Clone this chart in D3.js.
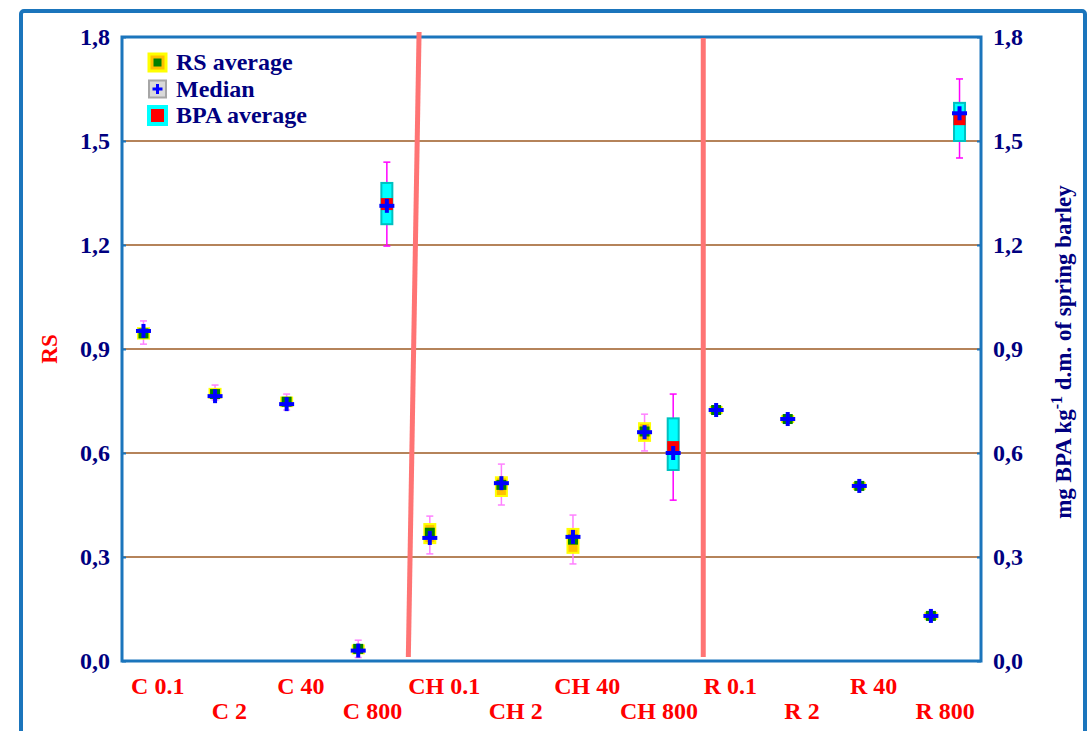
<!DOCTYPE html>
<html>
<head>
<meta charset="utf-8">
<script src="https://cdn.jsdelivr.net/npm/d3@7"></script>
<style>
  body { margin: 0; background: #fff; }
  svg { font-family: "Liberation Serif", "Times New Roman", serif; font-weight: bold; }
</style>
</head>
<body>
<svg width="1092" height="731"></svg>
<script>
const svg = d3.select("svg");

// categories along the x axis
const categories = ["C 0.1", "C 2", "C 40", "C 800", "CH 0.1", "CH 2", "CH 40", "CH 800", "R 0.1", "R 2", "R 40", "R 800"];

// RS box statistics per category
const rsMin    = [0.914, 0.753, 0.724, 0.010, 0.309, 0.450, 0.280, 0.606, 0.720, 0.694, 0.501, 0.118];
const rsQ1     = [0.930, 0.759, 0.735, 0.022, 0.340, 0.476, 0.312, 0.635, 0.722, 0.696, 0.503, 0.126];
const rsMedian = [0.952, 0.764, 0.741, 0.030, 0.355, 0.513, 0.358, 0.660, 0.724, 0.698, 0.505, 0.130];
const rsQ3     = [0.960, 0.785, 0.760, 0.045, 0.395, 0.530, 0.381, 0.686, 0.726, 0.700, 0.507, 0.134];
const rsMax    = [0.981, 0.796, 0.770, 0.060, 0.418, 0.568, 0.421, 0.712, 0.728, 0.702, 0.509, 0.138];
const rsMean   = [0.945, 0.770, 0.748, 0.035, 0.370, 0.508, 0.350, 0.662, 0.724, 0.698, 0.505, 0.130];

// BPA box statistics (only the 800 treatments)
const bpaCategories = ["C 800", "CH 800", "R 800"];
const bpaMin    = [1.197, 0.464, 1.451];
const bpaQ1     = [1.260, 0.551, 1.500];
const bpaMedian = [1.313, 0.600, 1.580];
const bpaQ3     = [1.379, 0.700, 1.610];
const bpaMax    = [1.439, 0.770, 1.679];
const bpaMean   = [1.318, 0.617, 1.563];

const yTicks = [0, 0.3, 0.6, 0.9, 1.2, 1.5, 1.8];
const legendItems = ["RS average", "Median", "BPA average"];

const plotLeft = 122, plotRight = 981, plotTop = 37, plotBottom = 661;

const x = d3.scaleLinear().domain([0, categories.length]).range([plotLeft, plotRight]);
const y = d3.scaleLinear().domain([0, 1.8]).range([plotBottom, plotTop]);

const rsX = i => x(i + 0.3);
const bpaX = c => x(categories.indexOf(c) + 0.7);
const fmt = d => d3.format(".1f")(d).replace(".", ",");

// outer frame
svg.append("rect")
  .attr("x", 21).attr("y", 11).attr("width", 1064).attr("height", 760)
  .attr("rx", 3)
  .attr("fill", "none").attr("stroke", "#1b75bc").attr("stroke-width", 4);

// grid lines
svg.append("g").selectAll("line").data(yTicks.filter(d => d > 0 && d < 1.8))
  .enter().append("line")
  .attr("x1", plotLeft).attr("x2", plotRight)
  .attr("y1", d => y(d)).attr("y2", d => y(d))
  .attr("stroke", "#b5835a").attr("stroke-width", 2);

// plot frame
svg.append("rect")
  .attr("x", plotLeft).attr("y", plotTop).attr("width", plotRight - plotLeft).attr("height", plotBottom - plotTop)
  .attr("fill", "none").attr("stroke", "#1b75bc").attr("stroke-width", 3);

// left and right axis
const leftAxis = d3.axisLeft(y).tickValues(yTicks).tickFormat(fmt).tickSize(-4).tickPadding(12);
const rightAxis = d3.axisRight(y).tickValues(yTicks).tickFormat(fmt).tickSize(-4).tickPadding(12);

[[leftAxis, plotLeft], [rightAxis, plotRight]].forEach(([ax, pos]) => {
  const g = svg.append("g").attr("transform", `translate(${pos},0)`).call(ax);
  g.select(".domain").remove();
  g.selectAll(".tick line").attr("stroke", "#1b75bc").attr("stroke-width", 2);
  g.selectAll(".tick text")
    .attr("fill", "#000080")
    .attr("font-size", 24)
    .attr("font-family", "Liberation Serif, Times New Roman, serif")
    .attr("font-weight", "bold");
});

// x labels, alternating rows
svg.append("g").selectAll("text").data(categories)
  .enter().append("text")
  .attr("x", (d, i) => x(i + 0.5))
  .attr("y", (d, i) => i % 2 === 0 ? 694 : 719)
  .attr("text-anchor", "middle")
  .attr("font-size", 24)
  .attr("fill", "#ff0000")
  .text(d => d);

// axis titles
svg.append("text")
  .attr("transform", "translate(57,349) rotate(-90)")
  .attr("text-anchor", "middle")
  .attr("font-size", 23)
  .attr("fill", "#ff0000")
  .text("RS");

const rTitle = svg.append("text")
  .attr("transform", "translate(1071,352) rotate(-90)")
  .attr("text-anchor", "middle")
  .attr("font-size", 23)
  .attr("fill", "#000080");
rTitle.append("tspan").text("mg BPA kg");
rTitle.append("tspan").attr("dy", -9).attr("font-size", 16).text("-1");
rTitle.append("tspan").attr("dy", 9).text(" d.m. of spring barley");

// separator lines
svg.append("line")
  .attr("x1", x(4.15)).attr("y1", 32).attr("x2", x(4.0)).attr("y2", 657)
  .attr("stroke", "#ff7474").attr("stroke-width", 5);
svg.append("line")
  .attr("x1", x(8.12)).attr("y1", 38).attr("x2", x(8.12)).attr("y2", 657)
  .attr("stroke", "#ff7474").attr("stroke-width", 5);

// median cross
const cross = (g, cx, cy) => {
  g.append("rect").attr("x", cx - 7.5).attr("y", cy - 2).attr("width", 15).attr("height", 4).attr("fill", "#0000ff");
  g.append("rect").attr("x", cx - 2).attr("y", cy - 7).attr("width", 4).attr("height", 14).attr("fill", "#0000ff");
};

// RS boxes
const rsG = svg.append("g");
categories.forEach((c, i) => {
  const cx = rsX(i);
  const g = rsG.append("g");
  g.append("line").attr("x1", cx).attr("x2", cx).attr("y1", y(rsMin[i])).attr("y2", y(rsMax[i]))
    .attr("stroke", "#ff80ff").attr("stroke-width", 1.5);
  [rsMin[i], rsMax[i]].forEach(v => g.append("line")
    .attr("x1", cx - 3.5).attr("x2", cx + 3.5).attr("y1", y(v)).attr("y2", y(v))
    .attr("stroke", "#ff80ff").attr("stroke-width", 1.5));
  const h = Math.max(y(rsQ1[i]) - y(rsQ3[i]), 6);
  g.append("rect").attr("x", cx - 5.5).attr("y", (y(rsQ1[i]) + y(rsQ3[i])) / 2 - h / 2)
    .attr("width", 11).attr("height", h)
    .attr("fill", "#ffc000").attr("stroke", "#ffff00").attr("stroke-width", 2);
  g.append("rect").attr("x", cx - 5).attr("y", y(rsMean[i]) - 5).attr("width", 10).attr("height", 10)
    .attr("fill", "#008000");
  cross(g, cx, y(rsMedian[i]));
});

// BPA boxes
const bpaG = svg.append("g");
bpaCategories.forEach((c, i) => {
  const cx = bpaX(c);
  const g = bpaG.append("g");
  g.append("line").attr("x1", cx).attr("x2", cx).attr("y1", y(bpaMin[i])).attr("y2", y(bpaMax[i]))
    .attr("stroke", "#ff00ff").attr("stroke-width", 1.5);
  [bpaMin[i], bpaMax[i]].forEach(v => g.append("line")
    .attr("x1", cx - 3.5).attr("x2", cx + 3.5).attr("y1", y(v)).attr("y2", y(v))
    .attr("stroke", "#ff00ff").attr("stroke-width", 1.5));
  g.append("rect").attr("x", cx - 5.5).attr("y", y(bpaQ3[i]))
    .attr("width", 11).attr("height", y(bpaQ1[i]) - y(bpaQ3[i]))
    .attr("fill", "#00ffff").attr("stroke", "#00c0c0").attr("stroke-width", 2);
  g.append("rect").attr("x", cx - 6).attr("y", y(bpaMean[i]) - 6).attr("width", 12).attr("height", 12)
    .attr("fill", "#ff0000");
  cross(g, cx, y(bpaMedian[i]));
});

// legend
const legend = svg.append("g").attr("transform", "translate(149,54)");
legendItems.forEach((d, i) => {
  const g = legend.append("g").attr("transform", `translate(0,${i * 26.5})`);
  if (i === 0) {
    g.append("rect").attr("x", 0).attr("y", 0).attr("width", 17).attr("height", 17)
      .attr("fill", "#ffc000").attr("stroke", "#ffff00").attr("stroke-width", 3);
    g.append("rect").attr("x", 4.5).attr("y", 4.5).attr("width", 8).attr("height", 8).attr("fill", "#008000");
  } else if (i === 1) {
    g.append("rect").attr("x", 0).attr("y", 0).attr("width", 17).attr("height", 17)
      .attr("fill", "#d9d9d9").attr("stroke", "#a6a6a6").attr("stroke-width", 2);
    g.append("rect").attr("x", 3.5).attr("y", 7).attr("width", 10).attr("height", 3).attr("fill", "#0000ff");
    g.append("rect").attr("x", 7).attr("y", 3.5).attr("width", 3).attr("height", 10).attr("fill", "#0000ff");
  } else {
    g.append("rect").attr("x", 0).attr("y", 0).attr("width", 17).attr("height", 17)
      .attr("fill", "#ff0000").attr("stroke", "#00ffff").attr("stroke-width", 4);
  }
  g.append("text").attr("x", 27).attr("y", 16)
    .attr("font-size", 24).attr("fill", "#000080").text(d);
});
</script>
</body>
</html>
